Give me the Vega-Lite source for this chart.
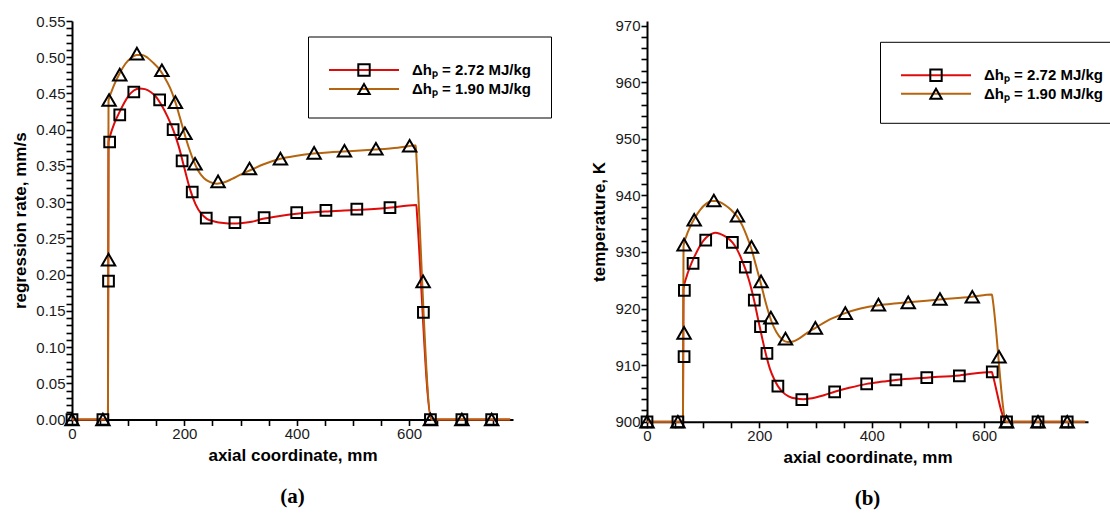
{
  "$schema": "https://vega.github.io/schema/vega-lite/v6.json",
  "padding": {"left": 11, "top": 14, "right": 0, "bottom": 4},
  "background": "white",
  "config": {
    "view": {"stroke": null},
    "font": "Liberation Sans",
    "axis": {
      "grid": false,
      "domainColor": "black",
      "domainWidth": 2,
      "tickCount": 200,
      "labelColor": "#1a1a1a",
      "labelFont": "Liberation Sans",
      "labelFontSize": 15,
      "labelPadding": 1,
      "labelOverlap": false,
      "labelFlush": false,
      "titleFont": "Liberation Sans",
      "titleFontSize": 17,
      "titleFontWeight": "bold",
      "titleColor": "black",
      "titlePadding": 6
    }
  },
  "datasets": {
    "lineA": [
      {"x": 0, "y": 0, "dh": "2.72"}, {"x": 64, "y": 0, "dh": "2.72"}, {"x": 65, "y": 0.383, "dh": "2.72"}, {"x": 68, "y": 0.392, "dh": "2.72"},
      {"x": 75, "y": 0.408, "dh": "2.72"}, {"x": 85, "y": 0.425, "dh": "2.72"}, {"x": 100, "y": 0.446, "dh": "2.72"}, {"x": 110, "y": 0.454, "dh": "2.72"},
      {"x": 120, "y": 0.457, "dh": "2.72"}, {"x": 130, "y": 0.456, "dh": "2.72"}, {"x": 140, "y": 0.452, "dh": "2.72"}, {"x": 150, "y": 0.445, "dh": "2.72"},
      {"x": 160, "y": 0.433, "dh": "2.72"}, {"x": 170, "y": 0.418, "dh": "2.72"}, {"x": 180, "y": 0.4, "dh": "2.72"}, {"x": 190, "y": 0.377, "dh": "2.72"},
      {"x": 200, "y": 0.347, "dh": "2.72"}, {"x": 210, "y": 0.318, "dh": "2.72"}, {"x": 220, "y": 0.297, "dh": "2.72"}, {"x": 230, "y": 0.284, "dh": "2.72"},
      {"x": 240, "y": 0.277, "dh": "2.72"}, {"x": 255, "y": 0.273, "dh": "2.72"}, {"x": 270, "y": 0.2712, "dh": "2.72"}, {"x": 285, "y": 0.2705, "dh": "2.72"},
      {"x": 300, "y": 0.271, "dh": "2.72"}, {"x": 320, "y": 0.273, "dh": "2.72"}, {"x": 340, "y": 0.277, "dh": "2.72"}, {"x": 370, "y": 0.281, "dh": "2.72"},
      {"x": 400, "y": 0.284, "dh": "2.72"}, {"x": 450, "y": 0.287, "dh": "2.72"}, {"x": 500, "y": 0.289, "dh": "2.72"}, {"x": 560, "y": 0.292, "dh": "2.72"},
      {"x": 613, "y": 0.296, "dh": "2.72"}, {"x": 614, "y": 0.285, "dh": "2.72"}, {"x": 640, "y": 0, "dh": "2.72"}, {"x": 780, "y": 0, "dh": "2.72"},
      {"x": 0, "y": 0, "dh": "1.90"}, {"x": 64, "y": 0, "dh": "1.90"}, {"x": 65, "y": 0.44, "dh": "1.90"}, {"x": 70, "y": 0.452, "dh": "1.90"},
      {"x": 75, "y": 0.462, "dh": "1.90"}, {"x": 85, "y": 0.478, "dh": "1.90"}, {"x": 95, "y": 0.491, "dh": "1.90"}, {"x": 105, "y": 0.499, "dh": "1.90"},
      {"x": 115, "y": 0.503, "dh": "1.90"}, {"x": 125, "y": 0.503, "dh": "1.90"}, {"x": 135, "y": 0.499, "dh": "1.90"}, {"x": 145, "y": 0.492, "dh": "1.90"},
      {"x": 155, "y": 0.484, "dh": "1.90"}, {"x": 165, "y": 0.472, "dh": "1.90"}, {"x": 175, "y": 0.457, "dh": "1.90"}, {"x": 184, "y": 0.438, "dh": "1.90"},
      {"x": 192, "y": 0.417, "dh": "1.90"}, {"x": 200, "y": 0.395, "dh": "1.90"}, {"x": 208, "y": 0.375, "dh": "1.90"}, {"x": 217, "y": 0.356, "dh": "1.90"},
      {"x": 225, "y": 0.343, "dh": "1.90"}, {"x": 235, "y": 0.333, "dh": "1.90"}, {"x": 245, "y": 0.328, "dh": "1.90"}, {"x": 258, "y": 0.3255, "dh": "1.90"},
      {"x": 270, "y": 0.327, "dh": "1.90"}, {"x": 285, "y": 0.332, "dh": "1.90"}, {"x": 300, "y": 0.338, "dh": "1.90"}, {"x": 320, "y": 0.345, "dh": "1.90"},
      {"x": 340, "y": 0.352, "dh": "1.90"}, {"x": 371, "y": 0.36, "dh": "1.90"}, {"x": 400, "y": 0.364, "dh": "1.90"}, {"x": 430, "y": 0.367, "dh": "1.90"},
      {"x": 460, "y": 0.369, "dh": "1.90"}, {"x": 500, "y": 0.3705, "dh": "1.90"}, {"x": 540, "y": 0.3725, "dh": "1.90"}, {"x": 580, "y": 0.375, "dh": "1.90"},
      {"x": 612, "y": 0.378, "dh": "1.90"}, {"x": 613, "y": 0.364, "dh": "1.90"}, {"x": 640, "y": 0, "dh": "1.90"}, {"x": 780, "y": 0, "dh": "1.90"}
    ],
    "markA": [
      {"x": 0, "y": 0, "dh": "2.72"}, {"x": 55, "y": 0, "dh": "2.72"}, {"x": 65, "y": 0.191, "dh": "2.72"}, {"x": 67, "y": 0.383, "dh": "2.72"},
      {"x": 85, "y": 0.4205, "dh": "2.72"}, {"x": 110, "y": 0.452, "dh": "2.72"}, {"x": 156, "y": 0.441, "dh": "2.72"}, {"x": 180, "y": 0.4, "dh": "2.72"},
      {"x": 196, "y": 0.357, "dh": "2.72"}, {"x": 214, "y": 0.314, "dh": "2.72"}, {"x": 239, "y": 0.278, "dh": "2.72"}, {"x": 290, "y": 0.2716, "dh": "2.72"},
      {"x": 342, "y": 0.2785, "dh": "2.72"}, {"x": 400, "y": 0.2854, "dh": "2.72"}, {"x": 452, "y": 0.2886, "dh": "2.72"}, {"x": 507, "y": 0.2904, "dh": "2.72"},
      {"x": 566, "y": 0.2923, "dh": "2.72"}, {"x": 625.5, "y": 0.148, "dh": "2.72"}, {"x": 638, "y": 0, "dh": "2.72"}, {"x": 694, "y": 0, "dh": "2.72"},
      {"x": 747, "y": 0, "dh": "2.72"},
      {"x": 0, "y": 0, "dh": "1.90"}, {"x": 55, "y": 0, "dh": "1.90"}, {"x": 65, "y": 0.2206, "dh": "1.90"}, {"x": 66, "y": 0.441, "dh": "1.90"},
      {"x": 85, "y": 0.476, "dh": "1.90"}, {"x": 115.5, "y": 0.505, "dh": "1.90"}, {"x": 160, "y": 0.482, "dh": "1.90"}, {"x": 184, "y": 0.438, "dh": "1.90"},
      {"x": 201, "y": 0.395, "dh": "1.90"}, {"x": 219, "y": 0.353, "dh": "1.90"}, {"x": 260, "y": 0.3286, "dh": "1.90"}, {"x": 316, "y": 0.3465, "dh": "1.90"},
      {"x": 371, "y": 0.36, "dh": "1.90"}, {"x": 431, "y": 0.368, "dh": "1.90"}, {"x": 485, "y": 0.371, "dh": "1.90"}, {"x": 541, "y": 0.3736, "dh": "1.90"},
      {"x": 601, "y": 0.3778, "dh": "1.90"}, {"x": 625, "y": 0.1907, "dh": "1.90"}, {"x": 638, "y": 0, "dh": "1.90"}, {"x": 694, "y": 0, "dh": "1.90"},
      {"x": 747, "y": 0, "dh": "1.90"}
    ],
    "lineB": [
      {"x": 0, "y": 900, "dh": "2.72"}, {"x": 64, "y": 900, "dh": "2.72"}, {"x": 65, "y": 923.5, "dh": "2.72"}, {"x": 70, "y": 925.5, "dh": "2.72"},
      {"x": 77, "y": 927.5, "dh": "2.72"}, {"x": 85, "y": 929.3, "dh": "2.72"}, {"x": 95, "y": 931.2, "dh": "2.72"}, {"x": 105, "y": 932.5, "dh": "2.72"},
      {"x": 115, "y": 933.2, "dh": "2.72"}, {"x": 122, "y": 933.4, "dh": "2.72"}, {"x": 130, "y": 933.2, "dh": "2.72"}, {"x": 140, "y": 932.7, "dh": "2.72"},
      {"x": 152, "y": 931.7, "dh": "2.72"}, {"x": 160, "y": 930.5, "dh": "2.72"}, {"x": 168, "y": 928.8, "dh": "2.72"}, {"x": 175, "y": 927.0, "dh": "2.72"},
      {"x": 183, "y": 924.5, "dh": "2.72"}, {"x": 191, "y": 921.3, "dh": "2.72"}, {"x": 198, "y": 918.0, "dh": "2.72"}, {"x": 205, "y": 914.8, "dh": "2.72"},
      {"x": 212, "y": 911.8, "dh": "2.72"}, {"x": 219, "y": 909.3, "dh": "2.72"}, {"x": 226, "y": 907.6, "dh": "2.72"}, {"x": 233, "y": 906.3, "dh": "2.72"},
      {"x": 242, "y": 905.2, "dh": "2.72"}, {"x": 252, "y": 904.5, "dh": "2.72"}, {"x": 265, "y": 904.1, "dh": "2.72"}, {"x": 278, "y": 904.0, "dh": "2.72"},
      {"x": 290, "y": 904.1, "dh": "2.72"}, {"x": 300, "y": 904.3, "dh": "2.72"}, {"x": 315, "y": 904.7, "dh": "2.72"}, {"x": 334, "y": 905.3, "dh": "2.72"},
      {"x": 360, "y": 906.0, "dh": "2.72"}, {"x": 391, "y": 906.7, "dh": "2.72"}, {"x": 420, "y": 907.1, "dh": "2.72"}, {"x": 443, "y": 907.4, "dh": "2.72"},
      {"x": 498, "y": 907.8, "dh": "2.72"}, {"x": 556, "y": 908.2, "dh": "2.72"}, {"x": 614, "y": 908.8, "dh": "2.72"}, {"x": 615, "y": 908.45, "dh": "2.72"},
      {"x": 640, "y": 900, "dh": "2.72"}, {"x": 780, "y": 900, "dh": "2.72"},
      {"x": 0, "y": 900, "dh": "1.90"}, {"x": 64, "y": 900, "dh": "1.90"}, {"x": 65, "y": 931.0, "dh": "1.90"}, {"x": 70, "y": 932.8, "dh": "1.90"},
      {"x": 77, "y": 934.5, "dh": "1.90"}, {"x": 85, "y": 936.0, "dh": "1.90"}, {"x": 95, "y": 937.5, "dh": "1.90"}, {"x": 105, "y": 938.5, "dh": "1.90"},
      {"x": 115, "y": 939.0, "dh": "1.90"}, {"x": 122, "y": 939.0, "dh": "1.90"}, {"x": 130, "y": 938.8, "dh": "1.90"}, {"x": 140, "y": 938.2, "dh": "1.90"},
      {"x": 150, "y": 937.4, "dh": "1.90"}, {"x": 161, "y": 936.2, "dh": "1.90"}, {"x": 170, "y": 934.6, "dh": "1.90"}, {"x": 178, "y": 932.7, "dh": "1.90"},
      {"x": 186, "y": 930.5, "dh": "1.90"}, {"x": 194, "y": 927.6, "dh": "1.90"}, {"x": 203, "y": 924.3, "dh": "1.90"}, {"x": 212, "y": 920.8, "dh": "1.90"},
      {"x": 221, "y": 917.9, "dh": "1.90"}, {"x": 230, "y": 915.9, "dh": "1.90"}, {"x": 240, "y": 914.6, "dh": "1.90"}, {"x": 250, "y": 914.1, "dh": "1.90"},
      {"x": 260, "y": 914.2, "dh": "1.90"}, {"x": 272, "y": 914.8, "dh": "1.90"}, {"x": 285, "y": 915.7, "dh": "1.90"}, {"x": 300, "y": 916.6, "dh": "1.90"},
      {"x": 320, "y": 917.8, "dh": "1.90"}, {"x": 340, "y": 918.7, "dh": "1.90"}, {"x": 353, "y": 919.2, "dh": "1.90"}, {"x": 380, "y": 920.0, "dh": "1.90"},
      {"x": 412, "y": 920.6, "dh": "1.90"}, {"x": 440, "y": 920.9, "dh": "1.90"}, {"x": 465, "y": 921.1, "dh": "1.90"}, {"x": 521, "y": 921.6, "dh": "1.90"},
      {"x": 579, "y": 922.1, "dh": "1.90"}, {"x": 614, "y": 922.5, "dh": "1.90"}, {"x": 615, "y": 921.9, "dh": "1.90"}, {"x": 640, "y": 900, "dh": "1.90"},
      {"x": 780, "y": 900, "dh": "1.90"}
    ],
    "markB": [
      {"x": 0, "y": 900, "dh": "2.72"}, {"x": 55, "y": 900, "dh": "2.72"}, {"x": 66, "y": 911.5, "dh": "2.72"}, {"x": 66.5, "y": 923.2, "dh": "2.72"},
      {"x": 82, "y": 928.0, "dh": "2.72"}, {"x": 104.5, "y": 932.1, "dh": "2.72"}, {"x": 152, "y": 931.7, "dh": "2.72"}, {"x": 175, "y": 927.3, "dh": "2.72"},
      {"x": 191, "y": 921.5, "dh": "2.72"}, {"x": 202, "y": 916.8, "dh": "2.72"}, {"x": 213.5, "y": 912.1, "dh": "2.72"}, {"x": 233, "y": 906.3, "dh": "2.72"},
      {"x": 275.6, "y": 903.9, "dh": "2.72"}, {"x": 334, "y": 905.3, "dh": "2.72"}, {"x": 391, "y": 906.7, "dh": "2.72"}, {"x": 443, "y": 907.4, "dh": "2.72"},
      {"x": 498, "y": 907.8, "dh": "2.72"}, {"x": 556, "y": 908.1, "dh": "2.72"}, {"x": 614.6, "y": 908.8, "dh": "2.72"}, {"x": 640, "y": 900, "dh": "2.72"},
      {"x": 696, "y": 900, "dh": "2.72"}, {"x": 748, "y": 900, "dh": "2.72"},
      {"x": 0, "y": 900, "dh": "1.90"}, {"x": 55, "y": 900, "dh": "1.90"}, {"x": 66, "y": 915.7, "dh": "1.90"}, {"x": 66, "y": 931.3, "dh": "1.90"},
      {"x": 84, "y": 935.7, "dh": "1.90"}, {"x": 119, "y": 939.1, "dh": "1.90"}, {"x": 161, "y": 936.4, "dh": "1.90"}, {"x": 186, "y": 930.9, "dh": "1.90"},
      {"x": 203, "y": 924.8, "dh": "1.90"}, {"x": 220.5, "y": 918.4, "dh": "1.90"}, {"x": 246.5, "y": 914.7, "dh": "1.90"}, {"x": 299.7, "y": 916.6, "dh": "1.90"},
      {"x": 353, "y": 919.2, "dh": "1.90"}, {"x": 412, "y": 920.7, "dh": "1.90"}, {"x": 465, "y": 921.1, "dh": "1.90"}, {"x": 521.5, "y": 921.7, "dh": "1.90"},
      {"x": 579, "y": 922.1, "dh": "1.90"}, {"x": 626.6, "y": 911.5, "dh": "1.90"}, {"x": 640, "y": 900, "dh": "1.90"}, {"x": 696, "y": 900, "dh": "1.90"},
      {"x": 748, "y": 900, "dh": "1.90"}
    ]
  },
  "hconcat": [
    {
      "width": 441,
      "height": 398.5,
      "title": {"text": "(a)", "orient": "bottom", "anchor": "middle", "font": "Liberation Serif", "fontSize": 21, "fontWeight": "bold", "color": "black", "offset": 22},
      "layer": [
        {
          "data": {"name": "lineA"},
          "mark": {"type": "line", "interpolate": "monotone", "strokeWidth": 2},
          "encoding": {
            "x": {"field": "x", "type": "quantitative", "scale": {"domain": [0, 785], "nice": false},
              "axis": {"title": "axial coordinate, mm", "ticks": true, "tickSize": 6, "tickWidth": 1.6, "tickColor": "black",
                "labelOverlap": false, "values": [0,50,100,150,200,250,300,350,400,450,500,550,600,650,700,750],
                "labelExpr": "datum.value % 200 === 0 ? format(datum.value, 'd') : ''"}},
            "y": {"field": "y", "type": "quantitative", "scale": {"domain": [0, 0.55], "nice": false, "zero": false},
              "axis": {"title": "regression rate, mm/s", "ticks": true, "tickSize": 6, "tickWidth": 1.6, "tickColor": "black",
                "labelOverlap": false,
                "values": [0,0.01,0.02,0.03,0.04,0.05,0.06,0.07,0.08,0.09,0.1,0.11,0.12,0.13,0.14,0.15,0.16,0.17,0.18,0.19,0.2,0.21,0.22,0.23,0.24,0.25,0.26,0.27,0.28,0.29,0.3,0.31,0.32,0.33,0.34,0.35,0.36,0.37,0.38,0.39,0.4,0.41,0.42,0.43,0.44,0.45,0.46,0.47,0.48,0.49,0.5,0.51,0.52,0.53,0.54,0.55],
                "labelExpr": "abs(datum.value*20 - round(datum.value*20)) < 0.000001 ? format(datum.value, '.2f') : ''"}},
            "color": {"field": "dh", "type": "nominal",
              "scale": {"domain": ["2.72", "1.90"], "range": ["#de0b0b", "#b5640f"]},
              "legend": {"orient": "none", "legendX": 236, "legendY": 15.5, "title": " ", "titleFontSize": 4, "titlePadding": 1,
                "clipHeight": 17, "rowPadding": 2, "symbolType": "stroke", "symbolSize": 4900, "symbolStrokeWidth": 2,
                "labelOffset": 12, "padding": 20, "strokeColor": "black", "fillColor": "white", "zindex": 1,
                "labelFont": "Liberation Sans", "labelFontSize": 15, "labelFontWeight": "bold", "labelColor": "black", "labelLimit": 300,
                "labelExpr": "'Δhₚ = ' + datum.label + ' MJ/kg'"}}
          }
        },
        {
          "data": {"name": "markA"},
          "transform": [{"filter": "datum.dh === '2.72'"}],
          "mark": {"type": "point", "filled": false, "stroke": "black", "strokeWidth": 2, "size": 115, "opacity": 1},
          "encoding": {
            "x": {"field": "x", "type": "quantitative"},
            "y": {"field": "y", "type": "quantitative"},
            "shape": {"field": "dh", "type": "nominal", "sort": "descending", "scale": {"range": ["square", "triangle-up"]},
              "legend": {"orient": "none", "legendX": 264.5, "legendY": 15.5, "title": " ", "titleFontSize": 4, "titlePadding": 1,
                "clipHeight": 17, "rowPadding": 2, "symbolSize": 130, "symbolStrokeWidth": 2, "symbolStrokeColor": "black", "symbolFillColor": "transparent",
                "labelOffset": 12, "padding": 20, "zindex": 2,
                "labelFont": "Liberation Sans", "labelFontSize": 15, "labelFontWeight": "bold", "labelExpr": "''"}}
          }
        },
        {
          "data": {"name": "markA"},
          "transform": [{"filter": "datum.dh === '1.90'"}],
          "mark": {"type": "point", "filled": false, "stroke": "black", "strokeWidth": 2, "size": 180, "opacity": 1},
          "encoding": {
            "x": {"field": "x", "type": "quantitative"},
            "y": {"field": "y", "type": "quantitative"},
            "shape": {"field": "dh", "type": "nominal", "sort": "descending"}
          }
        }
      ]
    },
    {
      "width": 441,
      "height": 400.8,
      "title": {"text": "(b)", "orient": "bottom", "anchor": "middle", "font": "Liberation Serif", "fontSize": 21, "fontWeight": "bold", "color": "black", "offset": 22},
      "layer": [
        {
          "data": {"name": "lineB"},
          "mark": {"type": "line", "interpolate": "monotone", "strokeWidth": 2},
          "encoding": {
            "x": {"field": "x", "type": "quantitative", "scale": {"domain": [0, 785], "nice": false},
              "axis": {"title": "axial coordinate, mm", "ticks": true, "tickSize": 6, "tickWidth": 1.6, "tickColor": "black",
                "labelOverlap": false, "values": [0,50,100,150,200,250,300,350,400,450,500,550,600,650,700,750],
                "labelExpr": "datum.value % 200 === 0 ? format(datum.value, 'd') : ''"}},
            "y": {"field": "y", "type": "quantitative", "scale": {"domain": [900, 970.8], "nice": false, "zero": false},
              "axis": {"title": "temperature, K", "ticks": true, "tickSize": 6, "tickWidth": 1.6, "tickColor": "black",
                "labelOverlap": false,
                "values": [900,902,904,906,908,910,912,914,916,918,920,922,924,926,928,930,932,934,936,938,940,942,944,946,948,950,952,954,956,958,960,962,964,966,968,970],
                "labelExpr": "datum.value % 10 === 0 ? format(datum.value, 'd') : ''"}},
            "color": {"field": "dh", "type": "nominal",
              "scale": {"domain": ["2.72", "1.90"], "range": ["#de0b0b", "#b5640f"]},
              "legend": {"orient": "none", "legendX": 233, "legendY": 20.8, "title": " ", "titleFontSize": 4, "titlePadding": 1,
                "clipHeight": 17, "rowPadding": 1.5, "symbolType": "stroke", "symbolSize": 4900, "symbolStrokeWidth": 2,
                "labelOffset": 12, "padding": 20, "strokeColor": "black", "fillColor": "white", "zindex": 1,
                "labelFont": "Liberation Sans", "labelFontSize": 15, "labelFontWeight": "bold", "labelColor": "black", "labelLimit": 300,
                "labelExpr": "'Δhₚ = ' + datum.label + ' MJ/kg'"}}
          }
        },
        {
          "data": {"name": "markB"},
          "transform": [{"filter": "datum.dh === '2.72'"}],
          "mark": {"type": "point", "filled": false, "stroke": "black", "strokeWidth": 2, "size": 115, "opacity": 1},
          "encoding": {
            "x": {"field": "x", "type": "quantitative"},
            "y": {"field": "y", "type": "quantitative"},
            "shape": {"field": "dh", "type": "nominal", "sort": "descending", "scale": {"range": ["square", "triangle-up"]},
              "legend": {"orient": "none", "legendX": 261.5, "legendY": 20.8, "title": " ", "titleFontSize": 4, "titlePadding": 1,
                "clipHeight": 17, "rowPadding": 1.5, "symbolSize": 130, "symbolStrokeWidth": 2, "symbolStrokeColor": "black", "symbolFillColor": "transparent",
                "labelOffset": 12, "padding": 20, "zindex": 2,
                "labelFont": "Liberation Sans", "labelFontSize": 15, "labelFontWeight": "bold", "labelExpr": "''"}}
          }
        },
        {
          "data": {"name": "markB"},
          "transform": [{"filter": "datum.dh === '1.90'"}],
          "mark": {"type": "point", "filled": false, "stroke": "black", "strokeWidth": 2, "size": 180, "opacity": 1},
          "encoding": {
            "x": {"field": "x", "type": "quantitative"},
            "y": {"field": "y", "type": "quantitative"},
            "shape": {"field": "dh", "type": "nominal", "sort": "descending"}
          }
        }
      ]
    }
  ],
  "spacing": 134,
  "bounds": "flush",
  "resolve": {"scale": {"color": "independent", "shape": "independent", "x": "independent", "y": "independent"}}
}
